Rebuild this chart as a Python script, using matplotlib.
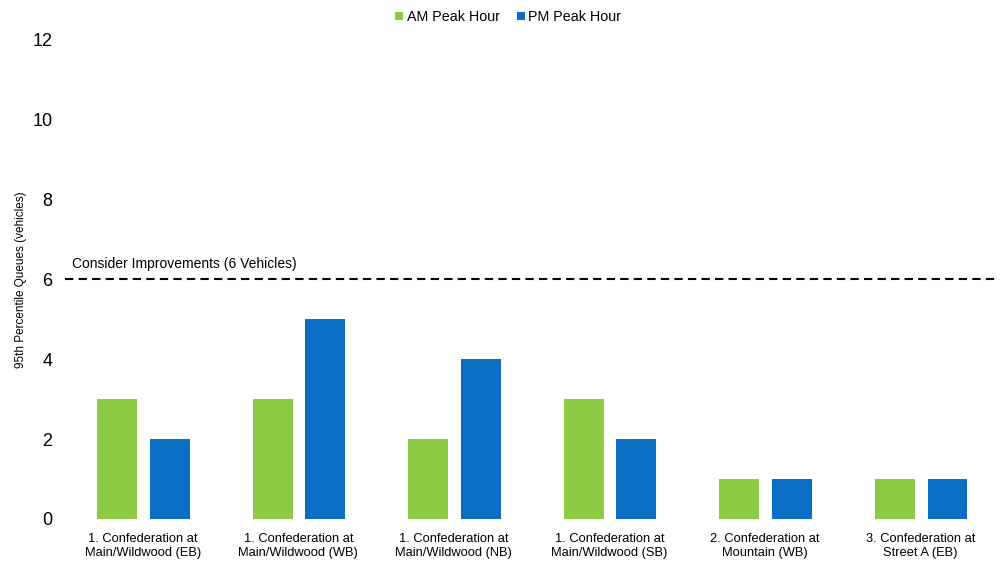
import matplotlib.pyplot as plt
import numpy as np

plt.rcParams['font.family'] = ['Liberation Sans', 'DejaVu Sans']

# data
locations = ['1. Confederation at\nMain/Wildwood (EB)',
             '1. Confederation at\nMain/Wildwood (WB)',
             '1. Confederation at\nMain/Wildwood (NB)',
             '1. Confederation at\nMain/Wildwood (SB)',
             '2. Confederation at\nMountain (WB)',
             '3. Confederation at\nStreet A (EB)']
am_peak = [3, 3, 2, 3, 1, 1]
pm_peak = [2, 5, 4, 2, 1, 1]
threshold = 6

fig = plt.figure(figsize=(10.08, 5.61), dpi=100)
ax = fig.add_axes([0.0645, 0.075, 0.9256, 0.854])

x = np.arange(len(locations))
w = 0.257
ax.bar(x - 0.165, am_peak, w, color='#8DCB45', label='AM Peak Hour')
ax.bar(x + 0.175, pm_peak, w, color='#0A6FC4', label='PM Peak Hour')

ax.axhline(threshold, color='black', linestyle=(0, (4, 2.5)), linewidth=1.5)
ax.text(0.008, threshold + 0.22, 'Consider Improvements (6 Vehicles)', transform=ax.get_yaxis_transform(),
        fontsize=10, va='bottom', ha='left')

ax.set_xlim(-0.5, len(locations) - 0.5)
ax.set_ylim(0, 12)
ax.set_yticks(range(0, 13, 2))
ax.tick_params(axis='y', labelsize=13, length=0, pad=9)
ax.set_xticks(x)
ax.set_xticklabels(locations, fontsize=9.3)
ax.tick_params(axis='x', length=0, pad=10)
ax.set_ylabel('95th Percentile Queues (vehicles)', fontsize=8.5, labelpad=4)
for s in ax.spines.values():
    s.set_visible(False)

ax.legend(loc='lower center', bbox_to_anchor=(0.475, 1.0), ncol=2, frameon=False,
          fontsize=10.3, handlelength=0.55, handleheight=0.55, handletextpad=0.25, columnspacing=1.2,
          borderaxespad=0.7)

fig.savefig('out.png', dpi=100)
